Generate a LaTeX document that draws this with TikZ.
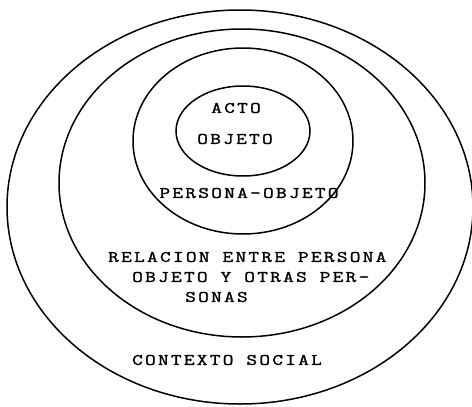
\documentclass[tikz,border=0pt]{standalone}
\usepackage{fontspec}
\usepackage{tikz}
\usetikzlibrary{positioning}
\newfontfamily\maquina[LetterSpace=14, FakeStretch=1.3, FakeBold=1.6]{Latin Modern Mono}
\tikzset{
    anillo/.style={draw=black, line width=1.5pt},
    texto/.style={inner sep=0pt, font=\maquina\fontsize{16}{20}\selectfont},
}

\begin{document}
\begin{tikzpicture}[x=1pt, y=-1pt]
			\useasboundingbox (0,0) rectangle (472,407);
			% anillos, de fuera hacia dentro
			\draw[anillo] (240,207) ellipse [x radius=233, y radius=197];
			\draw[anillo] (242,183) ellipse [x radius=183, y radius=154];
			\draw[anillo] (243,141) ellipse [x radius=110, y radius=93];
			\draw[anillo] (243,131) ellipse [x radius=67, y radius=45];
			\node[texto] (acto) at (236,108) {ACTO};
			\node[texto] (objeto) at (235,139) {OBJETO};
			\node[texto] (persona) at (249,193) {PERSONA-OBJETO};
			\node[texto, anchor=west] (relA) at (108,257) {RELACION ENTRE PERSONA};
			\node[texto, anchor=west] (relB) at (132,277) {OBJETO Y OTRAS PER-};
			\node[texto, anchor=west] (relC) at (185,297) {SONAS};
			\node[texto] (contexto) at (227,360) {CONTEXTO SOCIAL};
		\end{tikzpicture}
\end{document}
